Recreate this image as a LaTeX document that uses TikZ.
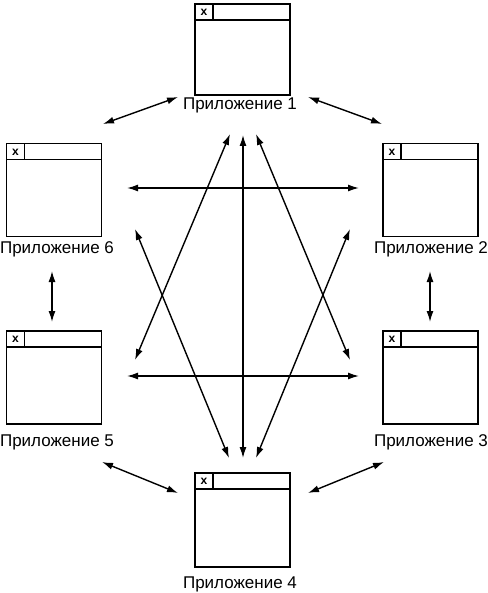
\documentclass[tikz,border=0pt]{standalone}
\usepackage{fontspec}
\setmainfont{Liberation Sans}
\usetikzlibrary{arrows.meta}
\tikzset{
  win/.style={draw, line width=1.6pt, minimum width=95pt, minimum height=93pt, inner sep=0pt,
    path picture={
      \draw[line width=1.8pt] ([yshift=-16pt]path picture bounding box.north west) -- ([yshift=-16pt]path picture bounding box.north east);
      \draw[line width=1.8pt] ([xshift=18pt]path picture bounding box.north west) -- ([xshift=18pt,yshift=-16pt]path picture bounding box.north west);
      \node[font=\fontsize{12}{12}\selectfont\bfseries, inner sep=0pt] at ([xshift=9pt,yshift=-8.5pt]path picture bounding box.north west) {x};
    }},
  lbl/.style={anchor=base, inner sep=0pt, font=\fontsize{17}{19}\selectfont},
  conn/.style={{Latex[length=11pt,width=7pt]}-{Latex[length=11pt,width=7pt]}, line width=1.4pt}
}
\begin{document}
\begin{tikzpicture}[x=1pt,y=-1pt]
\useasboundingbox (0,0) rectangle (487,593);
% windows
\node[win, minimum height=91pt] (w1) at (242.5,49.5) {};
\node[win] (w2) at (430.5,190) {};
\node[win] (w3) at (430.5,377.5) {};
\node[win, minimum height=94pt] (w4) at (242.5,520) {};
\node[win] (w5) at (54,377.5) {};
\node[win] (w6) at (54,190) {};
% labels
\node[lbl] (l1) at (240,110) {Приложение 1};
\node[lbl] (l2) at (431,254) {Приложение 2};
\node[lbl] (l3) at (431,446) {Приложение 3};
\node[lbl] (l4) at (240,588) {Приложение 4};
\node[lbl] (l5) at (57,446) {Приложение 5};
\node[lbl] (l6) at (57,254) {Приложение 6};
% arrow end points
\coordinate (a16a) at (103,124);
\coordinate (a16b) at (178,97);
\coordinate (a12a) at (308,97);
\coordinate (a12b) at (382,124);
\coordinate (a65a) at (52,271);
\coordinate (a65b) at (52,322);
\coordinate (a23a) at (430,271);
\coordinate (a23b) at (430,322);
\coordinate (a54a) at (102,462);
\coordinate (a54b) at (178,493);
\coordinate (a34a) at (308,493);
\coordinate (a34b) at (384,462);
\coordinate (h1a) at (127,188);
\coordinate (h1b) at (359,188);
\coordinate (h2a) at (127,376);
\coordinate (h2b) at (359,376);
\coordinate (va) at (243,135);
\coordinate (vb) at (243,458);
\coordinate (d1a) at (230,134);
\coordinate (d1b) at (135,360);
\coordinate (d2a) at (256,134);
\coordinate (d2b) at (350,360);
\coordinate (d3a) at (135,229);
\coordinate (d3b) at (229,458);
\coordinate (d4a) at (350,229);
\coordinate (d4b) at (256,458);
% connectors
\draw[conn] (a16a) -- (a16b);
\draw[conn] (a12a) -- (a12b);
\draw[conn] (a65a) -- (a65b);
\draw[conn] (a23a) -- (a23b);
\draw[conn] (a54a) -- (a54b);
\draw[conn] (a34a) -- (a34b);
\draw[conn] (h1a) -- (h1b);
\draw[conn] (h2a) -- (h2b);
\draw[conn] (va) -- (vb);
\draw[conn] (d1a) -- (d1b);
\draw[conn] (d2a) -- (d2b);
\draw[conn] (d3a) -- (d3b);
\draw[conn] (d4a) -- (d4b);
\end{tikzpicture}
\end{document}
